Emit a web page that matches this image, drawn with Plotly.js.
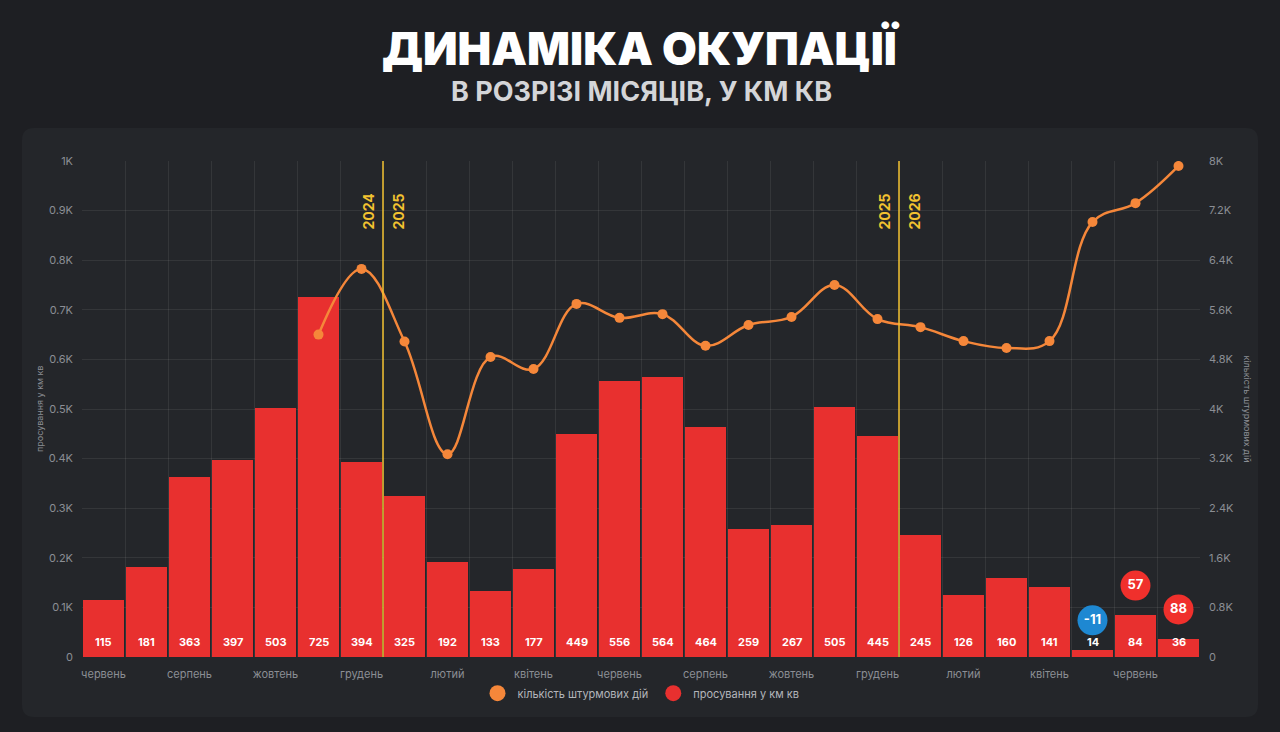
<!DOCTYPE html>
<html>
<head>
<meta charset="utf-8">
<script src="https://cdn.plot.ly/plotly-3.0.1.min.js"></script>
<style>
html,body{margin:0;padding:0;background:#1e1f23;}
#chart{width:1280px;height:732px;}
</style>
</head>
<body>
<div id="chart"></div>
<script>
// ---- data ----
const months = ['червень','липень','серпень','вересень','жовтень','листопад','грудень',
  'січень','лютий','березень','квітень','травень','червень','липень','серпень','вересень','жовтень','листопад','грудень',
  'січень','лютий','березень','квітень','травень','червень','липень'];
const years = [2024,2024,2024,2024,2024,2024,2024,
  2025,2025,2025,2025,2025,2025,2025,2025,2025,2025,2025,2025,
  2026,2026,2026,2026,2026,2026,2026];
const advance = [115,181,363,397,503,725,394,325,192,133,177,449,556,564,464,259,267,505,445,245,126,160,141,14,84,36];
const assaults = [null,null,null,null,null,5200,6260,5090,3270,4840,4645,5695,5470,5530,5020,5355,5485,6000,5450,5320,5095,4985,5095,7015,7320,7920];
const badgeIdx = [23,24,25];
const badgeVals = [-11,57,88];
const leftTicks = [0,100,200,300,400,500,600,700,800,900,1000];
const leftTickText = ['0','0.1K','0.2K','0.3K','0.4K','0.5K','0.6K','0.7K','0.8K','0.9K','1K'];
const rightTicks = [0,800,1600,2400,3200,4000,4800,5600,6400,7200,8000];
const rightTickText = ['0','0.8K','1.6K','2.4K','3.2K','4K','4.8K','5.6K','6.4K','7.2K','8K'];

// ---- derived ----
const idx = months.map((m,i)=>i);
const labelIdx = idx.filter(i=>i%2===0);
const bounds = idx.map(i=>i-0.5).concat([idx.length-0.5]);
const yearBreaks = [];
for(let i=1;i<years.length;i++){ if(years[i]!==years[i-1]) yearBreaks.push({x:i-0.5, a:years[i-1], b:years[i]}); }

const RED='#e8302f', ORANGE='#f5873a', YEL='#f2c230', GRAY='#8b8e94', GRID='rgba(255,255,255,0.075)';
const FONT='Inter, Roboto, sans-serif';

const traces = [
  {type:'bar', x:idx, y:advance, marker:{color:RED}, width:0.95, showlegend:false, hoverinfo:'y', yaxis:'y'},
  {type:'scatter', mode:'lines+markers', x:idx, y:assaults, yaxis:'y2', connectgaps:false,
   line:{color:ORANGE,width:2.5,shape:'spline',smoothing:1.1}, marker:{color:ORANGE,size:10}, showlegend:false},
  {type:'scatter', mode:'markers+text', x:badgeIdx, y:badgeIdx.map(i=>advance[i]+60), yaxis:'y',
   text:badgeVals.map(String), textposition:'middle center',
   textfont:{color:'#ffffff',size:13,family:FONT,weight:700},
   marker:{size:30,color:badgeVals.map(v=>v<0?'#1e88d2':'#f0302c')}, showlegend:false, hoverinfo:'skip'},
  {type:'scatter', mode:'markers', x:[null], y:[null], xaxis:'x2', name:'кількість штурмових дій', marker:{color:ORANGE,size:18}},
  {type:'scatter', mode:'markers', x:[null], y:[null], name:'просування у км кв', marker:{color:RED,size:18}}
];

const annotations = [
  {text:'ДИНАМІКА ОКУПАЦІЇ', xref:'paper', yref:'paper', x:0.5, y:1.226, xanchor:'center', showarrow:false,
   font:{family:FONT,size:45,color:'#ffffff',weight:900}, yanchor:'middle'},
  {text:'В РОЗРІЗІ МІСЯЦІВ, У КМ КВ', xref:'paper', yref:'paper', x:0.5, y:1.141, xanchor:'center', showarrow:false,
   font:{family:FONT,size:27,color:'#d4d5d8',weight:700}, yanchor:'middle'},
  {text:'просування у км кв', xref:'paper', yref:'paper', x:-0.0385, y:0.5, xanchor:'center', yanchor:'middle', showarrow:false, textangle:-90,
   font:{family:FONT,size:9,color:GRAY}},
  {text:'кількість штурмових дій', xref:'paper', yref:'paper', x:1.0425, y:0.5, xanchor:'center', yanchor:'middle', showarrow:false, textangle:90,
   font:{family:FONT,size:9,color:GRAY}}
];
idx.forEach(i=>{
  annotations.push({text:String(advance[i]), x:i, y:0, xref:'x', yref:'y', yanchor:'bottom', yshift:6, showarrow:false,
    font:{family:FONT,size:11,color:'#ffffff',weight:700}});
});
yearBreaks.forEach(b=>{
  annotations.push({text:String(b.a), x:b.x, y:0.9375, xref:'x', yref:'paper', xanchor:'right', yanchor:'top', xshift:-5, textangle:-90,
    showarrow:false, font:{family:FONT,size:14,color:YEL,weight:700}});
  annotations.push({text:String(b.b), x:b.x, y:0.9375, xref:'x', yref:'paper', xanchor:'left', yanchor:'top', xshift:4, textangle:-90,
    showarrow:false, font:{family:FONT,size:14,color:YEL,weight:700}});
});

// card background (pixel -> paper)
const px = v=>(v-82)/1118, py = v=>(657-v)/496;
const L=22,R=1258,T=128,B=717,r=12;
const cardPath = `M ${px(L+r)} ${py(T)} L ${px(R-r)} ${py(T)} Q ${px(R)} ${py(T)} ${px(R)} ${py(T+r)} L ${px(R)} ${py(B-r)} Q ${px(R)} ${py(B)} ${px(R-r)} ${py(B)} L ${px(L+r)} ${py(B)} Q ${px(L)} ${py(B)} ${px(L)} ${py(B-r)} L ${px(L)} ${py(T+r)} Q ${px(L)} ${py(T)} ${px(L+r)} ${py(T)} Z`;
const shapes = [
  {type:'path', path:cardPath, xref:'paper', yref:'paper', fillcolor:'#24262a', line:{width:0}, layer:'below'}
];
yearBreaks.forEach(b=>{
  shapes.push({type:'line', xref:'x', yref:'paper', x0:b.x, x1:b.x, y0:0, y1:1, line:{color:YEL,width:1.5}, layer:'above'});
});

const layout = {
  width:1280, height:732,
  paper_bgcolor:'#1e1f23', plot_bgcolor:'rgba(0,0,0,0)',
  margin:{l:82,r:80,t:161,b:75},
  font:{family:FONT,color:GRAY},
  bargap:0,
  xaxis:{range:[-0.5,idx.length-0.5], tickmode:'array', tickvals:labelIdx, ticktext:labelIdx.map(i=>months[i]),
    showgrid:false, zeroline:false, showline:false, ticks:'', tickfont:{size:11,color:GRAY}, ticklabelstandoff:9, fixedrange:true},
  xaxis2:{range:[-0.5,idx.length-0.5], overlaying:'x', anchor:'y', tickmode:'array', tickvals:bounds, showticklabels:false,
    showgrid:true, gridcolor:GRID, gridwidth:1, zeroline:false, ticks:''},
  yaxis:{range:[0,1000], tickmode:'array', tickvals:leftTicks, ticktext:leftTickText, showgrid:true, gridcolor:GRID,
    zeroline:false, tickfont:{size:11,color:GRAY}, ticklabelstandoff:8},
  yaxis2:{range:[0,8000], overlaying:'y', side:'right', tickmode:'array', tickvals:rightTicks, ticktext:rightTickText,
    showgrid:false, zeroline:false, tickfont:{size:11,color:GRAY}, ticklabelstandoff:8},
  showlegend:true,
  legend:{orientation:'h', x:0.5, xanchor:'center', y:-0.073, yanchor:'middle', font:{size:11,color:'#b3b5ba'},
    bgcolor:'rgba(0,0,0,0)', itemsizing:'trace', itemwidth:30},
  annotations:annotations,
  shapes:shapes
};

Plotly.newPlot('chart', traces, layout, {displayModeBar:false, staticPlot:true});
</script>
</body>
</html>
